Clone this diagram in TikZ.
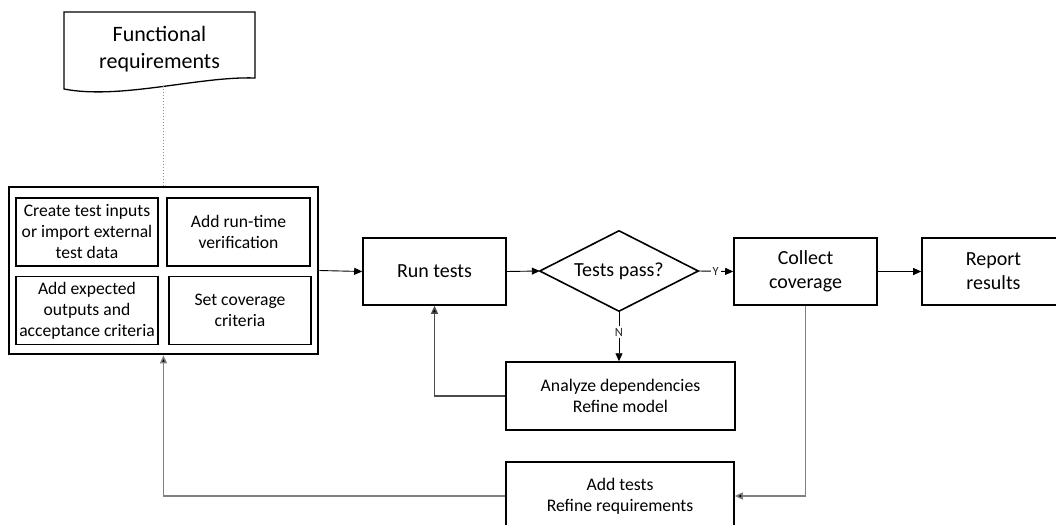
\documentclass[tikz,border=0pt]{standalone}
\usepackage{fontspec}
\setmainfont{Carlito}
\usetikzlibrary{arrows.meta,calc}
\begin{document}
\begin{tikzpicture}[x=1pt,y=-1pt,
  box/.style={draw=black,line width=1.6pt,inner sep=0pt,align=center,
    minimum width=143pt,minimum height=67pt,
    font=\fontsize{20}{24}\selectfont},
  subbox/.style={draw=black,line width=1.5pt,inner sep=0pt,align=center,
    minimum width=142pt,minimum height=68pt,
    font=\fontsize{17.6}{21}\selectfont},
  widebox/.style={draw=black,line width=1.5pt,inner sep=0pt,align=center,
    minimum width=229pt,minimum height=68pt,
    font=\fontsize{17.7}{21}\selectfont},
  tip/.style={-{Triangle[length=8pt,width=7pt,fill=black]}},
  flow/.style={draw=black,line width=0.9pt,tip},
  back/.style={draw=black!50,line width=1.4pt,tip},
  tag/.style={fill=white,inner sep=2pt,text=black!85,
    font=\fontsize{12.5}{14}\selectfont}
]
\clip (0,0) rectangle (1056,524);
\fill[white] (0,0) rectangle (1056,524);

% requirements document
\node[inner sep=0pt,minimum width=191pt,minimum height=66pt,align=center,
  font=\fontsize{22}{27}\selectfont] (doc) at (159.5,49) {Functional\\requirements};
\draw[line width=1.3pt] (64,12) -- (255,12) -- (255,78)
  .. controls (200,76) and (120,100) .. (64,89) -- cycle;

% test specification group
\node[draw=black,line width=2.6pt,minimum width=309pt,minimum height=167pt,inner sep=0pt]
  (spec) at (163.5,270.5) {};
\node[subbox] (inputs) at (87,232) {Create test inputs\\or import external\\test data};
\node[subbox,minimum width=143pt] (rtv) at (238.5,232) {Add run-time\\verification};
\node[subbox] (expected) at (87,310.5) {Add expected\\outputs and\\acceptance criteria};
\node[subbox] (cov) at (240,310.5) {Set coverage\\criteria};

\coordinate (docfoot) at (163.5,86);
\draw[black!45,line width=1pt,dotted] (spec.north) -- (docfoot);

% main flow
\node[box] (run) at (434.5,271.5) {Run tests};
\node[inner sep=0pt,minimum width=158pt,minimum height=80pt,
  font=\fontsize{20}{24}\selectfont] (pass) at (619,271) {Tests pass?};
\draw[line width=1.6pt] (pass.west) -- (pass.north) -- (pass.east) -- (pass.south) -- cycle;
\node[box] (collect) at (805.5,271.5) {Collect\\coverage};
\node[box] (report) at (993.5,271.5) {Report\\results};
\node[widebox] (analyze) at (620.5,396) {Analyze dependencies\\Refine model};
\node[widebox,minimum width=228pt] (addtests) at (620,496) {Add tests\\Refine requirements};

\draw[flow] (spec.east) -- (run.west);
\draw[flow] (run.east) -- (pass.west);
\draw[flow] (pass.east) -- node[tag]{Y} (collect.west);
\draw[flow] (collect.east) -- (report.west);
\draw[flow] (pass.south) -- node[tag,pos=0.42]{N} (pass.south |- analyze.north);

% feedback loops
\draw[back,draw=black!70] (analyze.west) -| (run.south);
\draw[back] (collect.south) |- (addtests.east);
\draw[back] (addtests.west) -| (spec.south);
\end{tikzpicture}
\end{document}
